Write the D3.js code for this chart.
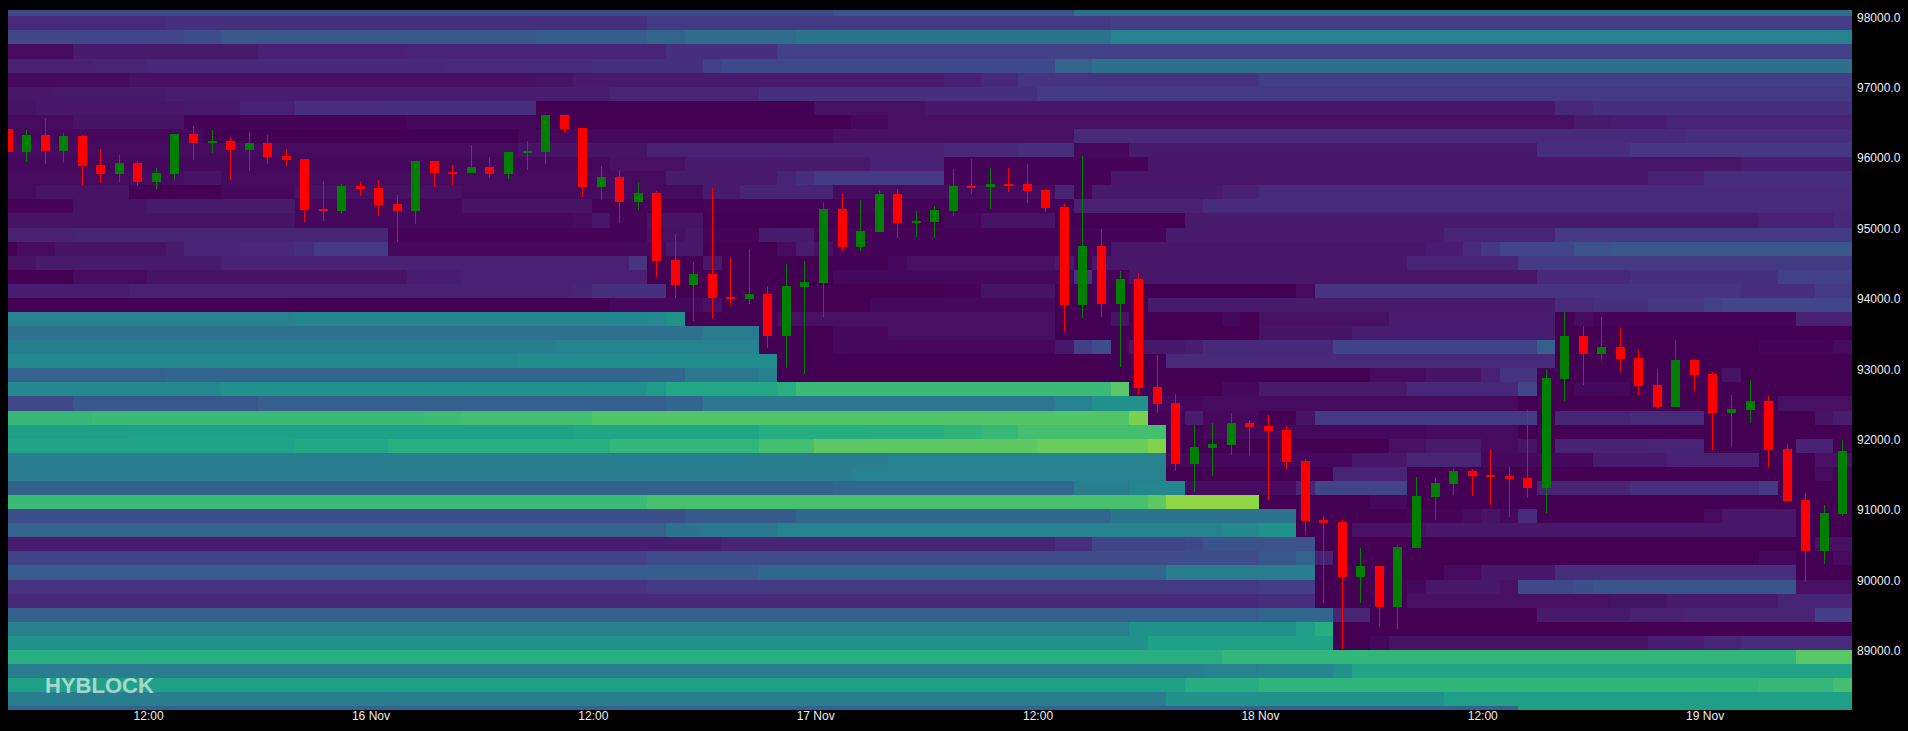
<!DOCTYPE html>
<html><head><meta charset="utf-8">
<script src="https://cdnjs.cloudflare.com/ajax/libs/d3/7.8.5/d3.min.js"></script>
<style>html,body{margin:0;padding:0;background:#000;overflow:hidden}svg{display:block}
text{font-family:"Liberation Sans",Arial,sans-serif}</style></head><body><svg id="c" width="1908" height="731"></svg>
<script>
const priceTicks=[98000,97000,96000,95000,94000,93000,92000,91000,90000,89000];
const timeTickPos=[7.55,19.55,31.55,43.55,55.55,67.55,79.55,91.55];
const timeTickLabels=["12:00","16 Nov","12:00","17 Nov","12:00","18 Nov","12:00","19 Nov"];
const bandTop=98200, bandSize=200;
const opens=[96399,96072,96314,96086,96300,95888,95760,95916,95646,95760,96328,96200,96229,96101,96200,96016,95973,95263,95234,95589,95561,95334,95234,95944,95788,95774,95859,95760,96058,96072,96598,96413,95575,95717,95362,95490,94538,94183,94339,94013,93984,94055,93459,94155,94212,95263,94723,94936,95476,95064,95078,95234,95589,95575,95618,95618,95533,95291,93899,94737,93913,94268,92734,92507,91641,91868,91910,92223,92180,92123,91683,90845,90817,90035,90192,89609,90447,91172,91356,91541,91484,91470,91442,91300,92848,93459,93203,93303,93146,92763,92450,93118,92919,92365,92408,92535,91854,91129,90405,90930];
const highs=[96399,96385,96546,96347,96314,96115,96034,95944,95845,96328,96442,96385,96285,96356,96314,96115,95973,95651,95618,95660,95675,95462,95944,95944,95888,96172,96001,96072,96229,96598,96598,96413,95873,95817,95637,95518,94907,94510,95556,94571,94694,94169,94481,94524,95353,95476,95390,95533,95547,95239,95305,95831,95973,95845,95845,95902,95547,95334,96016,94979,94382,94353,93189,92630,92195,92223,92365,92266,92337,92180,91707,90902,90845,90452,90192,90485,91456,91442,91570,91570,91854,91612,92408,92985,93800,93601,93729,93572,93260,92990,93402,93132,92947,92621,92834,92606,91920,91229,91058,91981];
const lows=[96072,95940,95902,95926,95599,95632,95646,95589,95533,95675,95959,96058,95675,95802,95902,95873,95078,95092,95196,95447,95163,94794,95050,95575,95604,95774,95703,95689,95817,95902,96342,95433,95391,95064,95248,94297,93998,93672,93709,93899,93913,93288,93009,92914,93728,94666,94666,94936,94846,94865,94851,95163,95476,95263,95504,95348,95220,93515,93714,93728,93018,92620,92365,91541,91243,91470,91768,91754,91129,91565,90632,89666,89013,89666,89325,89297,90447,90845,91200,91186,91058,90888,91158,90945,92535,92763,93104,92952,92621,92422,92450,92678,91835,91882,92223,91598,91115,89964,90220,90902];
const closes=[96072,96314,96086,96300,95878,95760,95916,95646,95774,96328,96200,96229,96101,96200,96001,95959,95248,95234,95589,95547,95319,95234,95944,95774,95774,95859,95760,96072,96086,96598,96399,95575,95717,95362,95490,94524,94183,94339,93998,93984,94055,93459,94169,94226,95263,94723,94950,95476,95064,95092,95248,95589,95575,95618,95604,95518,95277,93899,94737,93913,94268,92720,92493,91641,91882,91925,92223,92166,92109,91669,90831,90802,90035,90192,89609,90461,91186,91371,91541,91470,91456,91427,91300,92862,93459,93203,93303,93132,92749,92450,93118,92905,92365,92422,92535,91839,91115,90405,90945,91825];

// one list of [first column, intensity] runs per 200-wide price band, top band first
const heatRuns=[
[[0,.22],[45,.26],[58,.36]],
[[0,.12],[9,.14],[35,.17],[60,.18]],
[[0,.21],[10,.24],[12,.27],[29,.29],[35,.32],[37,.35],[43,.38],[60,.44]],
[[0,.03],[4,.07],[14,.09],[22,.1],[36,.14],[42,.19]],
[[0,.09],[5,.10],[8,.11],[24,.12],[32,.14],[38,.19],[39,.22],[57,.31],[59,.36]],
[[0,.03],[7,.04],[29,.05],[31,.07],[51,.09],[53,.11],[55,.15],[68,.18]],
[[0,.06],[3,.07],[9,.08],[33,.10],[41,.14],[56,.17]],
[[0,.05],[2,.06],[10,.07],[13,.09],[16,.13],[21,.14],[29,0],[44,.04],[50,.06],[84,.11],[86,.14]],
[[0,.03],[4,.05],[10,.01],[22,.02],[29,0],[46,.02],[48,.04],[85,.07],[87,.08],[90,.10]],
[[0,.02],[11,0],[28,.02],[45,.04],[58,.12],[91,.13]],
[[0,.03],[28,.05],[35,.09],[51,.11],[55,.13],[58,.02],[61,.07],[83,.13],[88,.16]],
[[0,.02],[33,.04],[37,.07],[47,.09],[51,.01],[62,.06],[94,.08]],
[[0,.03],[10,.05],[12,.03],[36,.07],[42,.10],[43,.13],[44,.17],[51,.01],[60,.06],[89,.09],[92,.13]],
[[0,.03],[2,.05],[7,0],[12,.02],[16,.04],[25,.03],[38,.07],[40,.1],[45,.03],[57,.1],[58,.01],[59,.07],[66,.09],[68,.12]],
[[0,.01],[4,.05],[8,.07],[16,.02],[25,.05],[32,.01],[58,.09],[65,.12]],
[[0,.05],[16,.02],[31,.03],[32,.06],[33,.01],[35,.05],[38,0],[51,.02],[53,.05],[57,0],[64,.07],[95,.09],[99,.11]],
[[0,.09],[4,.10],[21,.01],[35,.04],[37,.06],[38,.01],[41,.07],[44,.01],[63,.07],[78,.10],[84,.17]],
[[0,0],[1,.03],[3,.05],[9,.07],[10,.10],[13,.11],[16,.13],[17,.17],[21,.02],[36,.06],[38,0],[42,.03],[43,.08],[44,.04],[45,.01],[60,.06],[77,.08],[79,.12],[80,.16],[81,.21],[85,.25],[87,.27]],
[[0,.05],[2,.07],[12,.09],[34,.15],[35,0],[38,.06],[39,0],[48,.02],[49,.04],[57,.07],[58,.01],[59,.06],[76,.1],[82,.17]],
[[0,0],[4,.03],[8,.05],[22,.08],[25,.09],[35,0],[45,.02],[58,.15],[59,.01],[61,.06],[83,.11],[88,.14],[96,.19]],
[[0,.08],[7,.09],[31,.10],[32,.14],[36,0],[51,.01],[53,.05],[57,0],[70,.03],[71,.15],[94,.13],[98,.17]],
[[0,0],[33,.02],[38,.04],[39,0],[47,.02],[57,0],[62,.07],[84,.12],[86,.14],[89,.16],[92,.19],[93,.21]],
[[0,.44],[16,.46],[35,.47],[36,.5],[37,0],[42,.04],[57,0],[60,.05],[61,0],[66,.02],[67,0],[68,.04],[75,.08],[84,0],[85,.03],[86,.01],[97,.09]],
[[0,.37],[38,.41],[41,0],[45,.02],[48,.04],[57,0],[68,.05],[73,.08],[84,0]],
[[0,.42],[30,.44],[41,0],[45,.02],[57,.06],[58,.18],[59,.23],[60,0],[61,.06],[64,.08],[65,.11],[72,.2],[83,.3],[84,0],[95,.01],[99,.03]],
[[0,.47],[28,.49],[42,0],[63,.12],[84,0]],
[[0,.31],[9,.33],[37,.40],[41,.43],[42,0],[74,.03],[77,.05],[80,.09],[81,.15],[83,0],[93,.05],[94,0]],
[[0,.47],[12,.5],[35,.55],[36,.6],[42,.63],[43,.68],[60,.74],[61,0],[66,.02],[68,.07],[76,.11],[82,.21],[83,0],[85,.02],[88,0]],
[[0,.22],[4,.27],[14,.3],[36,.33],[38,.4],[57,.44],[59,.5],[62,.02],[65,.03],[82,0],[96,.04]],
[[0,.67],[5,.68],[23,.69],[25,.70],[32,.73],[61,.8],[62,.01],[64,.08],[65,.02],[68,0],[70,.05],[71,.17],[83,0],[84,.1],[88,.12],[92,0],[98,.05],[99,.08]],
[[0,.56],[7,.57],[31,.59],[41,.62],[47,.63],[51,.65],[53,.67],[55,.7],[63,0],[65,.02],[77,.03],[82,0]],
[[0,.58],[16,.6],[21,.63],[33,.66],[41,.7],[44,.75],[56,.77],[62,.81],[63,0],[75,.04],[77,.07],[80,.03],[82,.05],[83,0],[84,.09],[89,.1],[92,0],[97,.09],[99,0]],
[[0,.42],[48,.44],[63,.02],[73,.06],[76,.1],[80,.02],[86,.07],[90,.09],[95,0],[98,.04]],
[[0,.42],[46,.44],[63,0],[72,.1],[76,0],[98,.03],[99,.01]],
[[0,.31],[45,.33],[58,.42],[61,.46],[64,.03],[70,.1],[71,.2],[76,0],[83,.1],[88,.13],[95,.17],[96,0]],
[[0,.68],[35,.71],[62,.75],[63,.83],[68,0],[74,.02],[76,0]],
[[0,.24],[37,.28],[43,.33],[60,.38],[70,0],[76,.01],[79,.03],[80,.05],[81,.02],[82,.12],[83,0],[92,.03],[93,.06],[97,0]],
[[0,.31],[36,.38],[38,.4],[42,.44],[66,.47],[68,.5],[70,0],[73,.04],[77,.06],[97,0]],
[[0,.08],[39,.10],[57,.14],[59,.2],[64,.22],[65,.25],[71,0],[98,.04]],
[[0,.2],[35,.23],[68,.27],[70,.31],[71,.09],[72,0],[95,.02],[97,0],[99,.03]],
[[0,.29],[41,.33],[63,.42],[71,0],[78,.03],[80,.06],[84,.13],[97,0]],
[[0,.15],[35,.17],[68,.18],[71,0],[76,.02],[77,.06],[81,.04],[82,.22],[85,.24],[86,.26],[97,.04]],
[[0,.11],[68,.13],[71,0],[76,.04],[87,.05],[90,.07],[96,.1]],
[[0,.3],[68,.33],[72,.1],[74,0],[83,.07],[88,.09],[91,.1],[98,.18]],
[[0,.43],[61,.5],[70,.56],[71,.62],[72,0]],
[[0,.5],[62,.57],[72,0],[74,.02],[75,.05],[89,.08],[92,.1],[94,.12]],
[[0,.63],[66,.66],[97,.74]],
[[0,.42],[65,.44],[68,.46],[72,.5],[73,.58]],
[[0,.57],[64,.62],[68,.65],[95,.67],[99,.7]],
[[0,.42],[63,.5],[78,.56]],
[[0,.32],[82,.56]]
];
const svg=d3.select("#c");
const plotLeft=8,plotRight=1852,plotTop=10,plotBottom=710;
const x=d3.scaleLinear().domain([0,100]).range([8.2,1861.2]);
const y=d3.scaleLinear().domain([98000,88000]).range([16.3,720.3]);
const color=d3.scaleSequential(d3.interpolateViridis).domain([0,1]);
svg.append("rect").attr("width",1908).attr("height",731).attr("fill","#000");
svg.append("defs").append("clipPath").attr("id","plot").append("rect")
  .attr("x",plotLeft).attr("y",plotTop).attr("width",plotRight-plotLeft).attr("height",plotBottom-plotTop);
const plot=svg.append("g").attr("clip-path","url(#plot)");
const cells=heatRuns.flatMap((runs,r)=>runs.map((run,k)=>({
  r,start:run[0],end:k+1<runs.length?runs[k+1][0]:100,v:run[1]})));
plot.append("g").attr("shape-rendering","crispEdges").selectAll("rect").data(cells).join("rect")
  .attr("x",d=>x(d.start-.5))
  .attr("width",d=>x(d.end-.5)-x(d.start-.5)+.5)
  .attr("y",d=>y(bandTop-bandSize*d.r))
  .attr("height",d=>y(bandTop-bandSize*(d.r+1))-y(bandTop-bandSize*d.r)+.5)
  .attr("fill",d=>color(d.v));
const candles=d3.range(opens.length).map(i=>({i,o:opens[i],h:highs[i],l:lows[i],c:closes[i]}));
const col=d=>d.c>=d.o?"#008000":"#ff0000";
const cg=plot.append("g");
cg.selectAll("line").data(candles).join("line")
  .attr("x1",d=>Math.floor(x(d.i))+.5).attr("x2",d=>Math.floor(x(d.i))+.5)
  .attr("y1",d=>y(d.h)).attr("y2",d=>y(d.l)).attr("stroke",col).attr("stroke-width",1);
cg.selectAll("rect").data(candles).join("rect")
  .attr("x",d=>Math.floor(x(d.i))-4).attr("width",9)
  .attr("y",d=>y(Math.max(d.o,d.c)))
  .attr("height",d=>Math.max(2,y(Math.min(d.o,d.c))-y(Math.max(d.o,d.c))))
  .attr("fill",col).attr("shape-rendering","crispEdges");
const yAxis=d3.axisRight(y).tickValues(priceTicks).tickFormat(d3.format(".1f")).tickSize(0).tickPadding(5);
const gy=svg.append("g").attr("transform",`translate(${plotRight},1)`).call(yAxis);
const xAxis=d3.axisBottom(x).tickValues(timeTickPos).tickFormat((d,i)=>timeTickLabels[i]).tickSize(0).tickPadding(0);
const gx=svg.append("g").attr("transform",`translate(0,${plotBottom+1})`).call(xAxis);
[gx,gy].forEach(g=>{g.select(".domain").remove();
  g.selectAll("text").attr("fill","#eeeeee").style("font-size","12px").style("font-family",'"Liberation Sans",Arial,sans-serif');});
svg.append("text").attr("x",45).attr("y",692.5).text("HYBLOCK")
  .attr("fill","#fff").attr("fill-opacity",.6).attr("font-weight","bold").style("font-size","22px");
</script></body></html>
